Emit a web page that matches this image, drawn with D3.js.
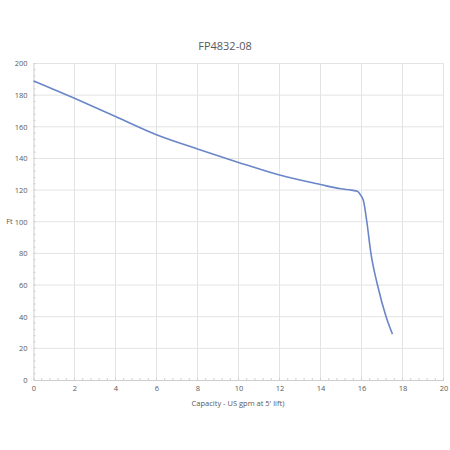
<!DOCTYPE html>
<html><head><meta charset="utf-8">
<script src="https://cdn.jsdelivr.net/npm/d3@7"></script>
<style>body{margin:0;background:#fff}svg{display:block}text{font-family:"Open Sans","Liberation Sans",sans-serif;fill:#595959}</style>
</head><body>
<svg id="c" width="450" height="450"></svg>
<script>
const chartTitle = "FP4832-08";
const xTitle = "Capacity - US gpm at 5' lift)";
const yTitle = "Ft";
const xTicks = [0,2,4,6,8,10,12,14,16,18,20];
const yTicks = [0,20,40,60,80,100,120,140,160,180,200];
const capacity = [0,2,4,6,8,10,12,14,15,15.5,15.8,15.95,16.1,16.26,16.46,16.78,17.2,17.51];
const head =     [189,178,166.5,155,146,137.5,129.5,123.5,120.8,120,119.3,117,113,100,80,60,40,29];

const svg = d3.select("#c");
const x = d3.scaleLinear().domain([0,20]).range([33.5,443.5]);
const y = d3.scaleLinear().domain([0,200]).range([380,63.5]);

// grid
svg.append("g").selectAll("line").data(xTicks.slice(1)).join("line")
  .attr("x1",d=>x(d)).attr("x2",d=>x(d)).attr("y1",y(0)).attr("y2",y(200))
  .attr("stroke","#e3e3e3").attr("stroke-width",1);
svg.append("g").selectAll("line").data(yTicks.slice(1)).join("line")
  .attr("x1",x(0)).attr("x2",x(20)).attr("y1",d=>y(d)).attr("y2",d=>y(d))
  .attr("stroke","#e3e3e3").attr("stroke-width",1);

// axes
const xAxis = d3.axisBottom(x).tickValues(xTicks).tickSize(0).tickPadding(6);
const gx = svg.append("g").attr("transform",`translate(0,${y(0)})`).call(xAxis);
gx.select(".domain").attr("stroke","#cfcfcf");
gx.selectAll("text").attr("font-size",7.5).style("fill","#595959").attr("font-family","Open Sans, Liberation Sans, sans-serif");
const yAxis = d3.axisLeft(y).tickValues(yTicks).tickSize(0).tickPadding(6);
const gy = svg.append("g").attr("transform",`translate(${x(0)},0)`).call(yAxis);
gy.select(".domain").attr("stroke","#cfcfcf");
gy.selectAll("text").attr("font-size",7.5).style("fill","#595959").attr("font-family","Open Sans, Liberation Sans, sans-serif");

// minor ticks
svg.append("g").selectAll("line").data(d3.range(0,20.01,0.4)).join("line")
  .attr("x1",d=>x(d)).attr("x2",d=>x(d)).attr("y1",y(0)-2).attr("y2",y(0))
  .attr("stroke","#cfcfcf");
svg.append("g").selectAll("line").data(d3.range(0,200.1,4)).join("line")
  .attr("x1",x(0)).attr("x2",x(0)+2).attr("y1",d=>y(d)).attr("y2",d=>y(d))
  .attr("stroke","#cfcfcf");

// line
const pts = capacity.map((c,i)=>[c,head[i]]);
svg.append("path").datum(pts)
  .attr("d",d3.line().x(d=>x(d[0])).y(d=>y(d[1])).curve(d3.curveMonotoneX))
  .attr("fill","none").attr("stroke","#6a86c9").attr("stroke-width",1.6);

// titles
svg.append("text").attr("x",225).attr("y",50).attr("text-anchor","middle").attr("font-size",11).text(chartTitle);
svg.append("text").attr("x",238).attr("y",406).attr("text-anchor","middle").attr("font-size",7.5).text(xTitle);
svg.append("text").attr("x",9.5).attr("y",224).attr("text-anchor","middle").attr("font-size",7.5).text(yTitle);
</script>
</body></html>
